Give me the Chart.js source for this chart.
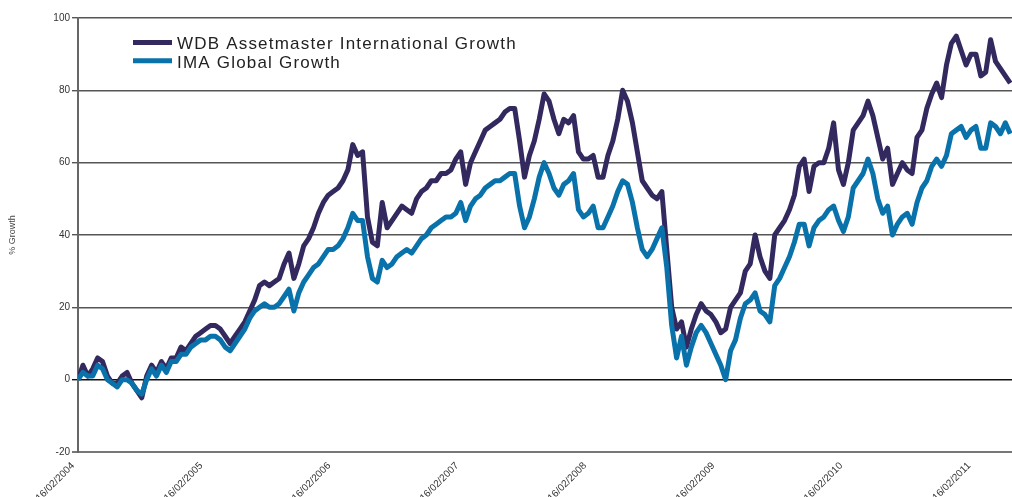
<!DOCTYPE html>
<html>
<head>
<meta charset="utf-8">
<script src="https://cdn.jsdelivr.net/npm/chart.js@4"></script>
<style>
  html, body { margin: 0; padding: 0; background: #fff; }
  #wrap { width: 1012px; height: 497px; }
</style>
</head>
<body>
<div id="wrap"><canvas id="growthChart" width="1012" height="497"></canvas></div>
<script>
/* WDB Assetmaster vs IMA Global Growth — cumulative % growth since 16/02/2004 */
const yearLabels = ["16/02/2004", "16/02/2005", "16/02/2006", "16/02/2007",
  "16/02/2008", "16/02/2009", "16/02/2010", "16/02/2011"];
const yearDays = [0, 366, 731, 1096, 1461, 1827, 2192, 2557]; // days since 16/02/2004
const dayStep = 14; // one reading per fortnight

const seriesNames = ["WDB Assetmaster International Growth", "IMA Global Growth"];

const wdb = [0, 4, 1, 3, 6, 5, 1, -1, -1, 1,
  2, -1, -3, -5, 1, 4, 2, 5, 3, 6,
  6, 9, 8, 10, 12, 13, 14, 15, 15, 14,
  12, 10, 12, 14, 16, 19, 22, 26, 27, 26,
  27, 28, 32, 35, 28, 32, 37, 39, 42, 46,
  49, 51, 52, 53, 55, 58, 65, 62, 63, 45,
  38, 37, 49, 42, 44, 46, 48, 47, 46, 50,
  52, 53, 55, 55, 57, 57, 58, 61, 63, 54,
  60, 63, 66, 69, 70, 71, 72, 74, 75, 75,
  66, 56, 62, 66, 72, 79, 77, 72, 68, 72,
  71, 73, 63, 61, 61, 62, 56, 56, 62, 66,
  72, 80, 77, 71, 63, 55, 53, 51, 50, 52,
  36, 20, 14, 16, 9, 14, 18, 21, 19, 18,
  16, 13, 14, 20, 22, 24, 30, 32, 40, 34,
  30, 28, 40, 42, 44, 47, 51, 59, 61, 52,
  59, 60, 60, 64, 71, 58, 54, 60, 69, 71,
  73, 77, 73, 67, 61, 64, 54, 57, 60, 58,
  57, 67, 69, 75, 79, 82, 78, 87, 93, 95,
  91, 87, 90, 90, 84, 85, 94, 88, 86, 84,
  82];

const ima = [0, 2, 1, 1, 4, 3, 0, -1, -2, 0,
  0, -1, -3, -4, 0, 3, 1, 4, 2, 5,
  5, 7, 7, 9, 10, 11, 11, 12, 12, 11,
  9, 8, 10, 12, 14, 17, 19, 20, 21, 20,
  20, 21, 23, 25, 19, 24, 27, 29, 31, 32,
  34, 36, 36, 37, 39, 42, 46, 44, 44, 34,
  28, 27, 33, 31, 32, 34, 35, 36, 35, 37,
  39, 40, 42, 43, 44, 45, 45, 46, 49, 44,
  48, 50, 51, 53, 54, 55, 55, 56, 57, 57,
  48, 42, 45, 50, 56, 60, 57, 53, 51, 54,
  55, 57, 47, 45, 46, 48, 42, 42, 45, 48,
  52, 55, 54, 49, 42, 36, 34, 36, 39, 42,
  31, 15, 6, 12, 4, 9, 13, 15, 13, 10,
  7, 4, 0, 8, 11, 17, 21, 22, 24, 19,
  18, 16, 26, 28, 31, 34, 38, 43, 43, 37,
  42, 44, 45, 47, 48, 44, 41, 45, 53, 55,
  57, 61, 57, 50, 46, 48, 40, 43, 45, 46,
  43, 49, 53, 55, 59, 61, 59, 62, 68, 69,
  70, 67, 69, 70, 64, 64, 71, 70, 68, 71,
  68];

const COL = { wdb: "#33295f", ima: "#0a72aa", grid: "#555", zero: "#111", axis: "#666", text: "#333" };
const FONT = "'Liberation Sans', Arial, sans-serif";
const toPts = (arr) => arr.map((v, i) => ({ x: i * dayStep, y: v }));

// legend drawn inside the plot, top-left
const innerLegend = {
  id: "innerLegend",
  afterDatasetsDraw(chart) {
    const ctx = chart.ctx, a = chart.chartArea;
    ctx.save();
    ctx.font = "17px " + FONT;
    ctx.letterSpacing = "1.2px";
    ctx.textBaseline = "alphabetic";
    [COL.wdb, COL.ima].forEach((c, i) => {
      const y = a.top + 24.5 + i * 18.3;
      ctx.strokeStyle = c;
      ctx.lineWidth = 5;
      ctx.beginPath();
      ctx.moveTo(a.left + 55, y);
      ctx.lineTo(a.left + 94, y);
      ctx.stroke();
      ctx.fillStyle = "#222";
      ctx.fillText(seriesNames[i], a.left + 99, y + 6.8);
    });
    ctx.restore();
  },
};

new Chart(document.getElementById("growthChart"), {
  type: "line",
  data: {
    datasets: [
      { label: seriesNames[0], data: toPts(wdb), borderColor: COL.wdb, borderWidth: 5, order: 2 },
      { label: seriesNames[1], data: toPts(ima), borderColor: COL.ima, borderWidth: 5, order: 1 },
    ],
  },
  options: {
    responsive: false, animation: false,
    layout: { padding: { top: 18, right: 0, left: 0, bottom: 0 } },
    elements: { point: { radius: 0 }, line: { tension: 0, borderJoinStyle: "round" } },
    plugins: { legend: { display: false }, tooltip: { enabled: false } },
    scales: {
      x: {
        type: "linear", min: 0, max: 2665,
        afterBuildTicks: (s) => { s.ticks = yearDays.map((d) => ({ value: d })); },
        afterFit: (s) => { s.height = 45; },
        grid: { display: false, drawTicks: false },
        border: { display: false },
        ticks: {
          autoSkip: false, maxRotation: 45, minRotation: 45, padding: 8, labelOffset: -5,
          color: COL.text, font: { family: FONT, size: 10 },
          callback: (v) => yearLabels[yearDays.indexOf(v)] || "",
        },
      },
      y: {
        min: -20, max: 100,
        afterFit: (s) => { s.width = 78; },
        ticks: { stepSize: 20, padding: 2, color: COL.text, font: { family: FONT, size: 10 } },
        grid: {
          tickLength: 6,
          color: (c) => (c.tick && c.tick.value === 0 ? COL.zero : c.tick && c.tick.value === -20 ? "#777" : COL.grid),
          lineWidth: (c) => (c.tick && c.tick.value === -20 ? 2 : 1.4),
        },
        border: { display: true, color: COL.axis, width: 2 },
        title: {
          display: true, text: "% Growth", color: "#444",
          font: { family: FONT, size: 9 }, padding: { top: 7, bottom: 0 },
        },
      },
    },
  },
  plugins: [innerLegend],
});
</script>
</body>
</html>
